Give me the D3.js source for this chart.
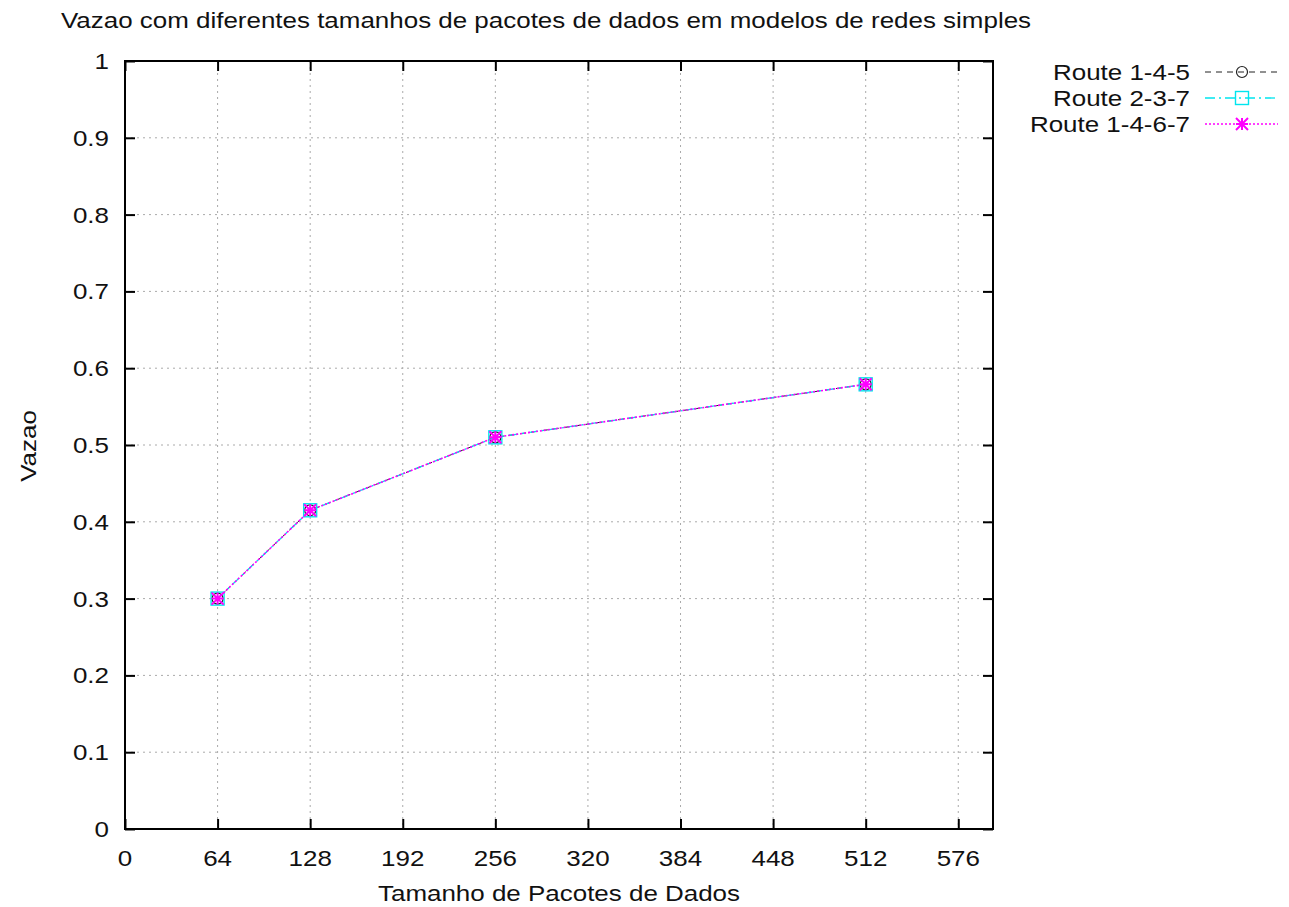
<!DOCTYPE html>
<html>
<head>
<meta charset="utf-8">
<script src="https://cdn.jsdelivr.net/npm/d3@7"></script>
<style>
  html, body { margin: 0; padding: 0; background: #fff; }
  svg text { font-family: "Liberation Sans", Arial, Helvetica, sans-serif; fill: #111; }
</style>
</head>
<body>
<svg id="chart" width="1289" height="907"></svg>
<script>
// Packet sizes (bytes) on the x axis
const packetSizes = [64, 128, 256, 512];
// Throughput per route
const route145 = [0.300, 0.415, 0.510, 0.579];
const route237 = [0.300, 0.415, 0.510, 0.579];
const route1467 = [0.300, 0.415, 0.510, 0.579];
const seriesNames = ["Route 1-4-5", "Route 2-3-7", "Route 1-4-6-7"];
const xTicks = [0, 64, 128, 192, 256, 320, 384, 448, 512, 576];
const yTicks = [0, 0.1, 0.2, 0.3, 0.4, 0.5, 0.6, 0.7, 0.8, 0.9, 1];

const titleText = "Vazao com diferentes tamanhos de pacotes de dados em modelos de redes simples";
const xLabel = "Tamanho de Pacotes de Dados";
const yLabel = "Vazao";

const svg = d3.select("#chart");
const plotLeft = 125, plotRight = 993, plotTop = 61, plotBottom = 829;
const SX = 1.18; // horizontal text stretch

const x = d3.scaleLinear().domain([0, 600]).range([plotLeft, plotRight]);
const y = d3.scaleLinear().domain([0, 1]).range([plotBottom, plotTop]);

function label(g, tx, ty, str, anchor, size) {
  return g.append("text")
    .attr("transform", `translate(${tx},${ty}) scale(${SX},1)`)
    .attr("text-anchor", anchor)
    .attr("font-size", size)
    .text(str);
}

// Grid
const grid = svg.append("g");
xTicks.slice(1).forEach(t => {
  grid.append("line").attr("x1", x(t)).attr("x2", x(t)).attr("y1", plotTop).attr("y2", plotBottom)
    .attr("stroke", "#aaa").attr("stroke-width", 1).attr("stroke-dasharray", "2,4");
});
yTicks.slice(1, -1).forEach(t => {
  grid.append("line").attr("x1", plotLeft).attr("x2", plotRight).attr("y1", y(t)).attr("y2", y(t))
    .attr("stroke", "#aaa").attr("stroke-width", 1).attr("stroke-dasharray", "2,4");
});

// Axes with inward ticks, mirrored on top/right
const tk = 10;
const axB = svg.append("g").attr("transform", `translate(0,${plotBottom})`)
  .call(d3.axisBottom(x).tickValues(xTicks).tickSize(-tk).tickFormat(""));
const axT = svg.append("g").attr("transform", `translate(0,${plotTop})`)
  .call(d3.axisTop(x).tickValues(xTicks).tickSize(-tk).tickFormat(""));
const axL = svg.append("g").attr("transform", `translate(${plotLeft},0)`)
  .call(d3.axisLeft(y).tickValues(yTicks).tickSize(-tk).tickFormat(""));
const axR = svg.append("g").attr("transform", `translate(${plotRight},0)`)
  .call(d3.axisRight(y).tickValues(yTicks).tickSize(-tk).tickFormat(""));
[axB, axT, axL, axR].forEach(a => {
  a.selectAll(".domain").remove();
  a.selectAll(".tick line").attr("stroke", "#000").attr("stroke-width", 2);
});

// Frame
svg.append("rect").attr("x", plotLeft).attr("y", plotTop)
  .attr("width", plotRight - plotLeft).attr("height", plotBottom - plotTop)
  .attr("fill", "none").attr("stroke", "#000").attr("stroke-width", 2);

// Tick labels
const tl = svg.append("g");
xTicks.forEach(t => label(tl, x(t), 866, String(t), "middle", 22));
yTicks.forEach(t => label(tl, 109, y(t) + 8, String(t), "end", 22));

// Titles
label(svg, 546, 28, titleText, "middle", 22);
label(svg, 559, 901, xLabel, "middle", 22);
svg.append("text")
  .attr("transform", `translate(36,446) rotate(-90) scale(${SX},1)`)
  .attr("text-anchor", "middle").attr("font-size", 22).text(yLabel);

// Series
const series = [
  { name: seriesNames[0], values: route145, color: "#222", dash: "6,5", marker: "circle", width: 1 },
  { name: seriesNames[1], values: route237, color: "#00e5ee", dash: "10,4,2,4", marker: "square", width: 1.3 },
  { name: seriesNames[2], values: route1467, color: "#ff00ff", dash: "2,2", marker: "star", width: 1.6 }
];

function drawMarker(g, kind, cx, cy, color) {
  if (kind === "circle") {
    g.append("circle").attr("cx", cx).attr("cy", cy).attr("r", 5.5)
      .attr("fill", "none").attr("stroke", color).attr("stroke-width", 1.2);
  } else if (kind === "square") {
    g.append("rect").attr("x", cx - 6.5).attr("y", cy - 6.5).attr("width", 13).attr("height", 13)
      .attr("fill", "none").attr("stroke", color).attr("stroke-width", 1.4);
  } else {
    const r = 6;
    const p = d3.path();
    p.moveTo(cx - r, cy); p.lineTo(cx + r, cy);
    p.moveTo(cx, cy - r); p.lineTo(cx, cy + r);
    p.moveTo(cx - r, cy - r); p.lineTo(cx + r, cy + r);
    p.moveTo(cx - r, cy + r); p.lineTo(cx + r, cy - r);
    g.append("path").attr("d", p.toString()).attr("stroke", color).attr("stroke-width", 2).attr("fill", "none");
  }
}

const line = d3.line().x((d, i) => x(packetSizes[i])).y(d => y(d));
series.forEach(s => {
  const g = svg.append("g");
  g.append("path").datum(s.values).attr("d", line)
    .attr("fill", "none").attr("stroke", s.color).attr("stroke-width", s.width)
    .attr("stroke-dasharray", s.dash);
  s.values.forEach((v, i) => drawMarker(g, s.marker, x(packetSizes[i]), y(v), s.color));
});

// Legend
const lg = svg.append("g");
series.forEach((s, i) => {
  const cy = 72 + i * 26;
  label(lg, 1190, cy + 8, s.name, "end", 22);
  lg.append("line").attr("x1", 1205).attr("x2", 1278).attr("y1", cy).attr("y2", cy)
    .attr("stroke", s.color).attr("stroke-width", s.width).attr("stroke-dasharray", s.dash);
  drawMarker(lg, s.marker, 1242, cy, s.color);
});
</script>
</body>
</html>
